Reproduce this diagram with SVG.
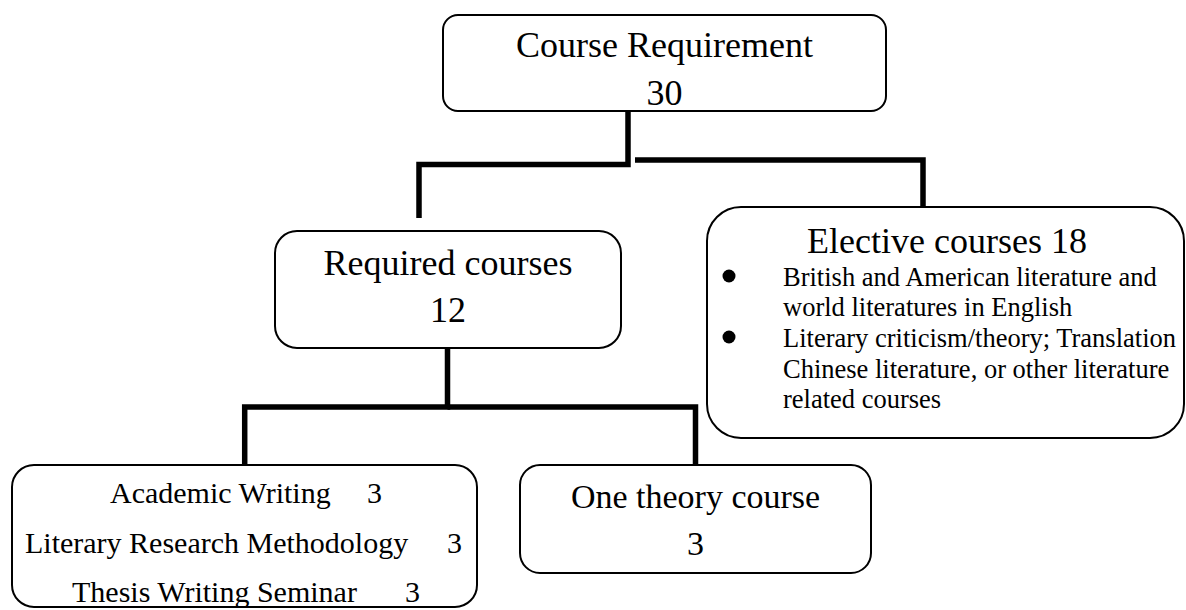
<svg xmlns="http://www.w3.org/2000/svg" width="1186" height="610" viewBox="0 0 1186 610">
<style>
  .box { fill: #ffffff; stroke: #000000; stroke-width: 2; }
  .conn { fill: none; stroke: #000000; stroke-width: 5.5; stroke-linejoin: miter; stroke-linecap: butt; }
  text { font-family: "Liberation Serif", "Times New Roman", serif; fill: #000000; }
  .t36 { font-size: 36px; }
  .t34 { font-size: 34px; }
  .t30 { font-size: 30px; }
  .t26 { font-size: 26.5px; }
  .mid { text-anchor: middle; }
</style>
<rect width="1186" height="610" fill="#ffffff"/>
<g id="connectors">
  <path class="conn" d="M628,111 V164.5 H419 V218"/>
  <path class="conn" d="M635,160 H923 V207"/>
  <path class="conn" d="M447.5,348 V407 H244.7 V465"/>
  <path class="conn" d="M447.5,407 H695.5 V465"/>
</g>
<g id="course-requirement">
  <rect class="box" x="443" y="15" width="443" height="96" rx="15" ry="15"/>
  <text class="t36 mid" x="664.5" y="57">Course Requirement</text>
  <text class="t36 mid" x="664.5" y="105">30</text>
</g>
<g id="required-courses">
  <rect class="box" x="275" y="231" width="346" height="117" rx="22" ry="22"/>
  <text class="t36 mid" x="448" y="275">Required courses</text>
  <text class="t36 mid" x="448" y="322">12</text>
</g>
<g id="elective-courses">
  <rect class="box" x="707" y="207" width="477" height="231" rx="34" ry="34"/>
  <text class="t36" x="807" y="253">Elective courses 18</text>
  <circle cx="729" cy="276" r="6.5" fill="#000000"/>
  <circle cx="729" cy="337" r="6.5" fill="#000000"/>
  <text class="t26" x="783" y="285.5">British and American literature and</text>
  <text class="t26" x="783" y="316">world literatures in English</text>
  <text class="t26" x="783" y="347">Literary criticism/theory; Translation</text>
  <text class="t26" x="783" y="377.5">Chinese literature, or other literature</text>
  <text class="t26" x="783" y="408">related courses</text>
</g>
<g id="core-courses">
  <rect class="box" x="12" y="465" width="465" height="142" rx="22" ry="22"/>
  <text class="t30" x="110" y="503">Academic Writing</text>
  <text class="t30" x="367" y="503">3</text>
  <text class="t30" x="25" y="553">Literary Research Methodology</text>
  <text class="t30" x="447" y="553">3</text>
  <text class="t30" x="72" y="602">Thesis Writing Seminar</text>
  <text class="t30" x="405" y="602">3</text>
</g>
<g id="one-theory-course">
  <rect class="box" x="520" y="465" width="351" height="108" rx="20" ry="20"/>
  <text class="t34 mid" x="695.5" y="508">One theory course</text>
  <text class="t34 mid" x="695.5" y="555">3</text>
</g>
</svg>
